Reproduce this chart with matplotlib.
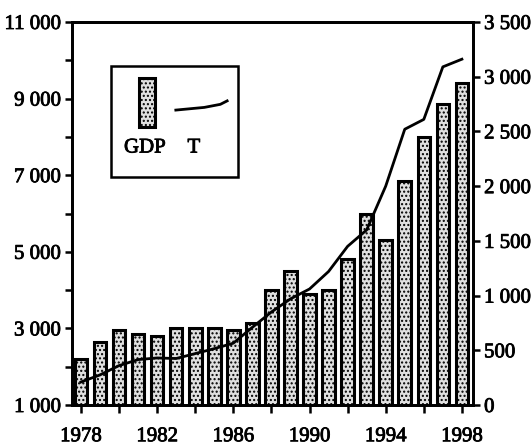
import matplotlib
matplotlib.use("Agg")
import matplotlib.pyplot as plt
import matplotlib.patheffects as pe
from matplotlib.patches import Rectangle
from matplotlib.lines import Line2D

years = list(range(1978, 1999))
gdp = [2200, 2650, 2950, 2850, 2800, 3000, 3000, 3000, 2950, 3150, 4000,
       4500, 3900, 4000, 4800, 6000, 5300, 6850, 8000, 8850, 9400]
t_vals = [210, 275, 360, 415, 430, 425, 470, 515, 565, 710, 850,
          970, 1060, 1220, 1450, 1600, 2000, 2520, 2610, 3090, 3160]

left_ticks = list(range(1000, 11001, 1000))
left_labels = ["1 000", "", "3 000", "", "5 000", "", "7 000", "", "9 000", "", "11 000"]
right_ticks = list(range(0, 3501, 500))
right_labels = ["0", "500", "1 000", "1 500", "2 000", "2 500", "3 000", "3 500"]
x_ticks = list(range(1978, 1999, 2))
x_labels = ["1978", "", "1982", "", "1986", "", "1990", "", "1994", "", "1998"]

plt.rcParams['font.family'] = ['Liberation Serif', 'DejaVu Serif']
plt.rcParams['hatch.color'] = '#a8a8a8'
plt.rcParams['hatch.linewidth'] = 1.0

stroke = [pe.withStroke(linewidth=0.6, foreground='black')]

fig = plt.figure(figsize=(5.32, 4.46), dpi=100)
ax = fig.add_axes([0.1353, 0.0919, 0.7537, 0.8588])

ax.bar(years, gdp, width=0.66, bottom=0, facecolor='#e0e0e0', edgecolor='black',
       linewidth=2.2, hatch='....', zorder=2)
ax.set_ylim(1000, 11000)
ax.set_xlim(1977.53, 1998.58)
ax.set_yticks(left_ticks)
ax.set_yticklabels(left_labels)
ax.set_xticks(x_ticks)
ax.set_xticklabels(x_labels)

ax2 = ax.twinx()
ax2.plot(years, t_vals, color='black', linewidth=2.0, zorder=3)
ax2.set_ylim(0, 3500)
ax2.set_yticks(right_ticks)
ax2.set_yticklabels(right_labels)

for a in (ax, ax2):
    for s in a.spines.values():
        s.set_linewidth(2.0)
    a.tick_params(direction='out', length=5, width=1.8, labelsize=15, pad=3)
ax.tick_params(axis='x', length=6, pad=10)

for a in (ax, ax2):
    for lab in a.get_xticklabels() + a.get_yticklabels():
        lab.set_path_effects(stroke)

# legend box
lb = Rectangle((0.098, 0.595), 0.315, 0.29, transform=ax.transAxes,
               facecolor='white', edgecolor='black', linewidth=1.8, zorder=5)
ax2.add_patch(lb)
patch = Rectangle((0.167, 0.726), 0.04, 0.128, transform=ax.transAxes,
                  facecolor='#e0e0e0', edgecolor='black', linewidth=2.2,
                  hatch='....', zorder=6)
ax2.add_patch(patch)
ax2.add_line(Line2D([0.259, 0.33, 0.37, 0.387], [0.770, 0.777, 0.785, 0.794],
                    transform=ax.transAxes, color='black', linewidth=2.0, zorder=6))
ax2.text(0.182, 0.671, "GDP", transform=ax.transAxes, ha='center', va='center',
         fontsize=15, zorder=7, path_effects=stroke)
ax2.text(0.304, 0.671, "T", transform=ax.transAxes, ha='center', va='center',
         fontsize=15, zorder=7, path_effects=stroke)

fig.savefig("out.png", dpi=100)
